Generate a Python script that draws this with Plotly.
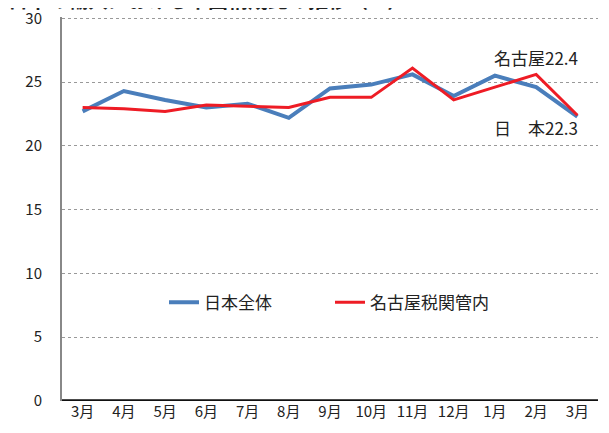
import plotly.graph_objects as go

months = ["3月", "4月", "5月", "6月", "7月", "8月", "9月", "10月", "11月", "12月", "1月", "2月", "3月"]
japan_total = [22.7, 24.3, 23.6, 23.0, 23.3, 22.2, 24.5, 24.8, 25.6, 23.9, 25.5, 24.6, 22.3]
nagoya = [23.0, 22.9, 22.7, 23.2, 23.1, 23.0, 23.8, 23.8, 26.1, 23.6, 24.6, 25.6, 22.4]
y_ticks = [0, 5, 10, 15, 20, 25, 30]
title_text = "日本の輸入における中国構成比の推移（%）"

FONT = "Noto Sans CJK JP"
xs = list(range(len(months)))

fig = go.Figure()
fig.add_trace(go.Scatter(x=xs, y=japan_total, mode="lines", name="日本全体",
                         line=dict(color="#4a7ebb", width=4)))
fig.add_trace(go.Scatter(x=xs, y=nagoya, mode="lines", name="名古屋税関管内",
                         line=dict(color="#ee1c25", width=3)))

# the page body has an 8px default margin, so the figure is sized/offset for it
fig.update_layout(
    width=601, height=425,
    margin=dict(l=54, r=11, t=9, b=32, autoexpand=False),
    paper_bgcolor="white", plot_bgcolor="white",
    font=dict(family=FONT, size=15, color="#222222"),
    showlegend=True,
    legend=dict(orientation="h", x=0.5, xanchor="center", y=0.256, yanchor="middle",
                font=dict(size=17, color="#222222"), bgcolor="rgba(0,0,0,0)",
                entrywidth=121, entrywidthmode="pixels"),
    xaxis=dict(range=[-0.5, len(months) - 0.5], tickmode="array", tickvals=xs, ticktext=months,
               showgrid=False, showline=False, zeroline=False, ticks="", automargin=False,
               tickfont=dict(size=15, family=FONT)),
    yaxis=dict(range=[0, 30.1], tickmode="array", tickvals=y_ticks, automargin=False,
               showgrid=True, gridcolor="#999999", griddash="dot", gridwidth=1,
               showline=True, linecolor="#888888", linewidth=2, zeroline=False,
               ticks="", ticklabelstandoff=15, ticklabeloverflow="allow",
               tickfont=dict(size=15, family=FONT)),
)

# thick baseline at 0
fig.add_shape(type="line", xref="paper", yref="y", x0=0, x1=1, y0=0, y1=0,
              line=dict(color="#111111", width=3.5))

fig.add_annotation(x=11, y=26.9, xref="x", yref="y", text="名古屋22.4", showarrow=False,
                   font=dict(size=17, family=FONT, color="#222222"))
fig.add_annotation(x=11, y=21.45, xref="x", yref="y", text="日　本22.3", showarrow=False,
                   font=dict(size=17, family=FONT, color="#222222"))

# title, partially cut off at the top edge as in the reference
fig.add_annotation(x=-56 / 536, y=1 + 1 / 384, xref="paper", yref="paper",
                   xanchor="left", yanchor="bottom", text="<b>" + title_text + "</b>",
                   showarrow=False, font=dict(size=20, family=FONT, color="#222222"))

fig.write_html("out.html")
